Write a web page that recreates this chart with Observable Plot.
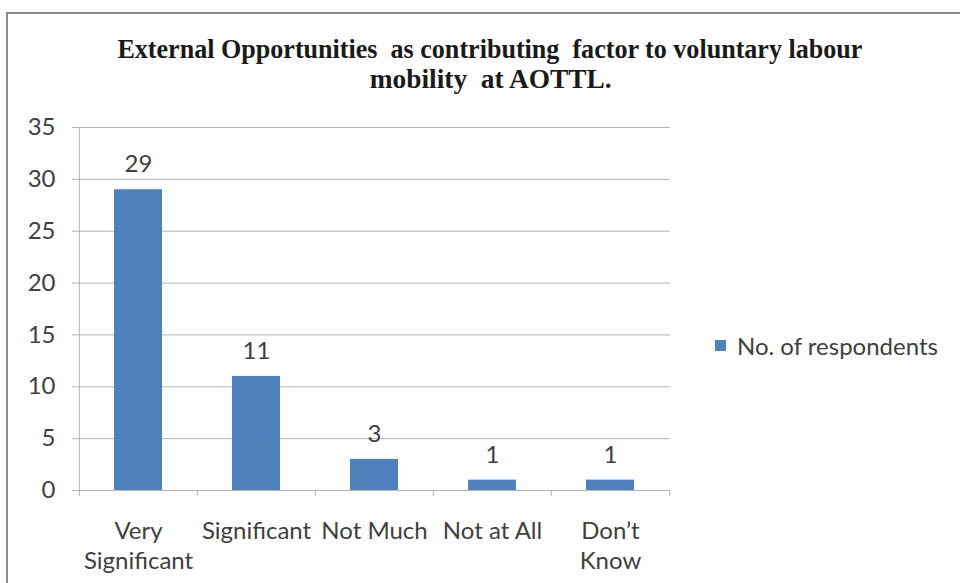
<!DOCTYPE html>
<html>
<head>
<meta charset="utf-8">
<script src="https://cdn.jsdelivr.net/npm/d3@7"></script>
<script src="https://cdn.jsdelivr.net/npm/@observablehq/plot@0.6"></script>
<style>
  html, body { margin: 0; padding: 0; background: #fff; }
  #wrap { position: relative; width: 960px; height: 583px; overflow: hidden; background: #fff; }
  #frame { position: absolute; left: 6px; top: 12px; width: 980px; height: 600px; border-left: 2px solid #8a8a8a; border-top: 2px solid #8a8a8a; box-sizing: border-box; }
  .title { position: absolute; left: 0; width: 980px; text-align: center; font-family: "Liberation Serif", serif; font-weight: bold; font-size: 28px; line-height: 30px; color: #1a1a1a; white-space: nowrap; }
  .title span { display: inline-block; transform-origin: center; }
  #chart { position: absolute; left: 0; top: 110px; }
  #legend { position: absolute; left: 715px; top: 331px; font-family: Lato, sans-serif; font-size: 24px; color: #404040; display: flex; align-items: center; white-space: nowrap; }
  #legend .sw { width: 11px; height: 11px; background: #4f81bd; margin-right: 11px; }
</style>
</head>
<body>
<div id="wrap">
  <div id="frame"></div>
  <div class="title" id="t1" style="top:33.5px;"><span>External Opportunities&nbsp; as contributing&nbsp; factor to voluntary labour</span></div>
  <div class="title" id="t2" style="top:63.5px;"><span>mobility&nbsp; at AOTTL.</span></div>
  <div id="chart"></div>
  <div id="legend"><div class="sw"></div><span id="legendLabel"></span></div>
</div>
<script>
const categories = ["Very\nSignificant", "Significant", "Not Much", "Not at All", "Don\u2019t\nKnow"];
const respondents = [29, 11, 3, 1, 1];
const yTicks = [0, 5, 10, 15, 20, 25, 30, 35];
const seriesName = "No. of respondents";

const data = categories.map((c, i) => ({cat: c, value: respondents[i]}));

const W = 700, H = 473, mL = 78, mR = 30, mT = 17, mB = 93;
const bw = (W - mL - mR) / categories.length;
const gridColor = "#b5b5b5";
const textColor = "#404040";
const barColor = "#4f81bd";

const chart = Plot.plot({
  width: W, height: H,
  marginLeft: mL, marginRight: mR, marginTop: mT, marginBottom: mB,
  style: {fontFamily: "Lato, sans-serif", fontSize: "24px", color: textColor, background: "transparent"},
  x: {type: "band", domain: categories, padding: 0, axis: null},
  y: {domain: [0, 35], axis: null},
  marks: [
    Plot.gridY(yTicks, {stroke: gridColor, strokeOpacity: 1}),
    Plot.axisY({ticks: yTicks, tickSize: 6, tickPadding: 17, stroke: gridColor, fill: textColor, fontSize: 24, label: null}),
    Plot.ruleX([categories[0]], {dx: -bw / 2, y1: 0, y2: 35, stroke: gridColor}),
    Plot.ruleY([0], {stroke: gridColor}),
    Plot.axisX({ticks: categories, tickSize: 6, dx: -bw / 2, tickFormat: () => "", stroke: gridColor, label: null}),
    Plot.axisX({ticks: [categories[categories.length - 1]], tickSize: 6, dx: bw / 2, tickFormat: () => "", stroke: gridColor, label: null}),
    Plot.axisX({tickSize: 0, tickPadding: 27, fill: textColor, fontSize: 24, lineHeight: 1.25, label: null}),
    Plot.barY(data, {x: "cat", y: "value", fill: barColor, insetLeft: 35, insetRight: 35}),
    Plot.text(data, {x: "cat", y: "value", text: d => String(d.value), dy: -25, fill: textColor, fontSize: 24})
  ]
});
document.getElementById("chart").appendChild(chart);
document.getElementById("legendLabel").textContent = seriesName;

// fit title line widths to the reference
const targets = {t1: {w: 745, cx: 490}, t2: {w: 242, cx: 491}};
for (const id of Object.keys(targets)) {
  const span = document.querySelector("#" + id + " span");
  const w = span.getBoundingClientRect().width;
  const s = targets[id].w / w;
  span.style.transform = `scaleX(${s})`;
  const div = document.getElementById(id);
  div.style.left = (targets[id].cx - 490) + "px";
}
</script>
</body>
</html>
